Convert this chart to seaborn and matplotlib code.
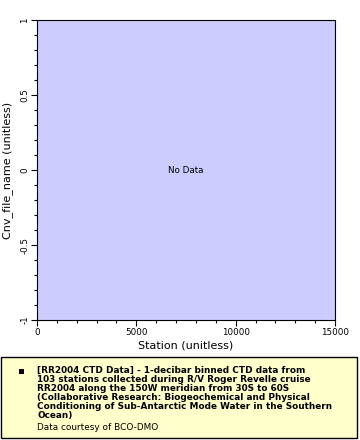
import matplotlib
matplotlib.use("Agg")
import matplotlib.pyplot as plt
import seaborn as sns
from matplotlib.patches import Rectangle
from matplotlib.ticker import MultipleLocator, FuncFormatter

# no data points for this variable
station = []
cnv_file_name = []

x_range = [0, 15000]
y_range = [-1, 1]
x_label = "Station (unitless)"
y_label = "Cnv_file_name (unitless)"
legend_title = ("[RR2004 CTD Data] - 1-decibar binned CTD data from\n"
                "103 stations collected during R/V Roger Revelle cruise\n"
                "RR2004 along the 150W meridian from 30S to 60S\n"
                "(Collaborative Research: Biogeochemical and Physical\n"
                "Conditioning of Sub-Antarctic Mode Water in the Southern\n"
                "Ocean)")
legend_credit = "Data courtesy of BCO-DMO"

sns.set_style("ticks", {"axes.facecolor": "#ccccff", "text.color": "black",
                        "axes.labelcolor": "black", "xtick.color": "black",
                        "ytick.color": "black", "axes.edgecolor": "black"})
plt.rcParams["font.family"] = ["DejaVu Sans"]
plt.rcParams["axes.unicode_minus"] = False

W, H = 360, 440
fig = plt.figure(figsize=(W / 100, H / 100), dpi=100)
ax = fig.add_axes([37 / W, 1 - 320 / H, 298 / W, 300 / H])

sns.scatterplot(x=station, y=cnv_file_name, ax=ax)
ax.set_xlim(*x_range)
ax.set_ylim(*y_range)
ax.xaxis.set_major_locator(MultipleLocator(5000))
ax.xaxis.set_minor_locator(MultipleLocator(1000))
ax.yaxis.set_major_locator(MultipleLocator(0.5))
ax.yaxis.set_minor_locator(MultipleLocator(0.1))
ax.yaxis.set_major_formatter(FuncFormatter(lambda v, p: f"{v:g}"))
ax.tick_params(which="major", length=4, width=0.8, labelsize=6.3, pad=1.5)
ax.tick_params(which="minor", length=2.5, width=0.8)
for lab in ax.get_yticklabels():
    lab.set_rotation(90)
    lab.set_va("center")
for s in ax.spines.values():
    s.set_visible(True)
    s.set_linewidth(0.8)
ax.set_xlabel(x_label, fontsize=8, labelpad=2.5)
ax.set_ylabel(y_label, fontsize=8, labelpad=5)
ax.text(0.5, 0.5, "No Data", transform=ax.transAxes, ha="center",
        va="center", fontsize=6.3)

# legend box below the plot
fig.patches.append(Rectangle((1 / W, 1 - 438 / H), 356 / W, 81 / H,
                             transform=fig.transFigure, facecolor="#ffffcc",
                             edgecolor="black", linewidth=1))
fig.patches.append(Rectangle((19 / W, 1 - 374 / H), 5 / W, 5 / H,
                             transform=fig.transFigure, facecolor="black",
                             edgecolor="none"))
fig.text(37 / W, 1 - 366 / H, legend_title, ha="left", va="top",
         fontsize=6.4, fontweight="bold", linespacing=1.0)
fig.text(37 / W, 1 - 422.5 / H, legend_credit, ha="left", va="top",
         fontsize=6.4)

fig.savefig("out.png", dpi=100)
